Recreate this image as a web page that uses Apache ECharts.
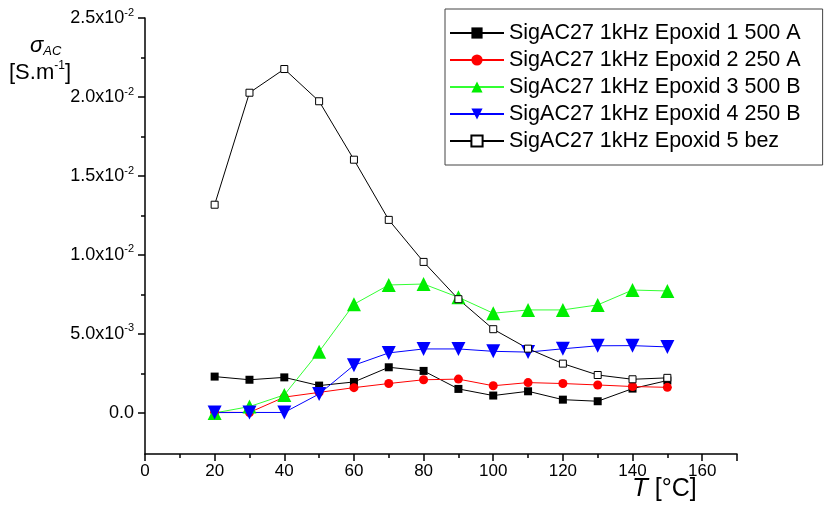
<!DOCTYPE html>
<html>
<head>
<meta charset="utf-8">
<script src="https://cdn.jsdelivr.net/npm/echarts@6/dist/echarts.min.js"></script>
<style>html,body{margin:0;padding:0;background:#fff}#c{width:827px;height:509px}</style>
</head>
<body>
<div id="c"></div>
<script>
const temps = [20, 30, 40, 50, 60, 70, 80, 90, 100, 110, 120, 130, 140, 150];
const names = [
  'SigAC27 1kHz Epoxid 1 500 A',
  'SigAC27 1kHz Epoxid 2 250 A',
  'SigAC27 1kHz Epoxid 3 500 B',
  'SigAC27 1kHz Epoxid 4 250 B',
  'SigAC27 1kHz Epoxid 5 bez'
];
const epoxid1 = [0.00230, 0.00210, 0.00225, 0.00173, 0.00196, 0.00289, 0.00266, 0.00152, 0.00110, 0.00137, 0.00084, 0.00074, 0.00154, 0.00205];
const epoxid2 = [0.00004, 0.00003, 0.00100, 0.00130, 0.00160, 0.00186, 0.00210, 0.00214, 0.00172, 0.00192, 0.00186, 0.00177, 0.00167, 0.00162];
const epoxid3 = [0.00000, 0.00040, 0.00114, 0.00388, 0.00688, 0.00810, 0.00816, 0.00732, 0.00631, 0.00652, 0.00652, 0.00684, 0.00778, 0.00772];
const epoxid4 = [0.00002, 0.00003, 0.00003, 0.00120, 0.00302, 0.00380, 0.00405, 0.00405, 0.00390, 0.00385, 0.00406, 0.00425, 0.00426, 0.00418];
const epoxid5 = [0.01318, 0.02027, 0.02177, 0.01973, 0.01603, 0.01222, 0.00956, 0.00720, 0.00530, 0.00407, 0.00312, 0.00240, 0.00213, 0.00222];
const xTickLabels = [0, 20, 40, 60, 80, 100, 120, 140, 160];
const yMajorTicks = [0, 0.005, 0.01, 0.015, 0.02, 0.025];
const yMinorTicks = [0.0025, 0.0075, 0.0125, 0.0175, 0.0225];

function pairs(vals) { return temps.map((t, i) => [t, vals[i]]); }
function sci(v) {
  if (Math.abs(v) < 1e-12) return '{m|0.0}';
  const e = Math.floor(Math.log10(v) + 1e-9);
  const m = (v / Math.pow(10, e)).toFixed(1);
  return '{m|' + m + 'x10}{s|' + e + '}';
}

const FONT = 'Liberation Sans, Arial, sans-serif';
const chart = echarts.init(document.getElementById('c'), null, {renderer: 'canvas'});
const seriesStyles = [
  {color: '#000000', symbol: 'rect', size: 8, fill: '#000000'},
  {color: '#ff0000', symbol: 'circle', size: 9, fill: '#ff0000'},
  {color: '#33ff33', symbol: 'triangle', size: 14, fill: '#00ee00'},
  {color: '#0000ff', symbol: 'triangle', size: 14, fill: '#0000ff', rotate: 180},
  {color: '#000000', symbol: 'rect', size: 7, fill: '#ffffff'}
];
const datas = [epoxid1, epoxid2, epoxid3, epoxid4, epoxid5];

chart.setOption({
  animation: false,
  textStyle: {fontFamily: FONT},
  grid: {left: 145, right: 90, top: 18, bottom: 55, containLabel: false},
  legend: {
    orient: 'vertical',
    left: 445, top: 9,
    padding: [12, 22, 12, 4],
    backgroundColor: '#fff',
    borderColor: '#444', borderWidth: 1,
    itemWidth: 54, itemHeight: 14, itemGap: 3,
    textStyle: {fontFamily: FONT, fontSize: 21.5, color: '#000', lineHeight: 24},
    data: names
  },
  xAxis: {
    type: 'value', min: 0, max: 170, interval: 20,
    axisLine: {onZero: false, lineStyle: {color: '#000', width: 1.5}},
    axisTick: {length: 7, lineStyle: {color: '#000', width: 1.5}},
    minorTick: {show: true, splitNumber: 2, length: 4, lineStyle: {color: '#000', width: 1.5}},
    splitLine: {show: false},
    axisLabel: {fontSize: 17, color: '#000', margin: 9, fontFamily: FONT,
      formatter: v => (xTickLabels.indexOf(v) >= 0 ? String(v) : '')}
  },
  yAxis: [{
    type: 'value', min: -0.0026, max: 0.025,
    axisLine: {onZero: false, lineStyle: {color: '#000', width: 1.5}},
    axisTick: {length: 7, customValues: yMajorTicks, lineStyle: {color: '#000', width: 1.5}},
    splitLine: {show: false},
    axisLabel: {
      customValues: yMajorTicks, margin: 11, color: '#000',
      formatter: sci,
      rich: {
        m: {fontSize: 18, fontFamily: FONT, color: '#000', lineHeight: 22},
        s: {fontSize: 11, fontFamily: FONT, color: '#000', lineHeight: 11, verticalAlign: 'top'}
      }
    }
  }, {
    type: 'value', min: -0.0026, max: 0.025, position: 'left',
    axisLine: {show: false},
    axisTick: {show: true, length: 4, customValues: yMinorTicks, lineStyle: {color: '#000', width: 1.5}},
    axisLabel: {show: false},
    splitLine: {show: false}
  }],
  graphic: [
    {type: 'text', left: 30, top: 35, style: {
      text: '{g|σ}{sub|AC}',
      rich: {
        g: {fontSize: 22, fontStyle: 'italic', fontFamily: FONT, fill: '#000', lineHeight: 24},
        sub: {fontSize: 13, fontStyle: 'italic', fontFamily: FONT, fill: '#000', lineHeight: 14, verticalAlign: 'bottom'}
      }}},
    {type: 'text', left: 9, top: 60, style: {
      text: '{b|[S.m}{s|-1}{b|]}',
      rich: {
        b: {fontSize: 22, fontFamily: FONT, fill: '#000', lineHeight: 26},
        s: {fontSize: 12, fontFamily: FONT, fill: '#000', lineHeight: 12, verticalAlign: 'top'}
      }}},
    {type: 'text', left: 632, top: 476, style: {
      text: '{i|T}{b| [°C]}',
      rich: {
        i: {fontSize: 26, fontStyle: 'italic', fontFamily: FONT, fill: '#000'},
        b: {fontSize: 25, fontFamily: FONT, fill: '#000'}
      }}}
  ],
  series: datas.map((d, i) => ({
    name: names[i], type: 'line', data: pairs(d),
    symbol: seriesStyles[i].symbol, symbolSize: seriesStyles[i].size,
    symbolRotate: seriesStyles[i].rotate || 0,
    showAllSymbol: true,
    lineStyle: {color: seriesStyles[i].color, width: 1},
    itemStyle: {color: seriesStyles[i].fill, borderColor: i === 4 ? '#000' : seriesStyles[i].fill, borderWidth: i === 4 ? 1 : 0},
    emphasis: {disabled: true}
  }))
});
</script>
</body>
</html>
